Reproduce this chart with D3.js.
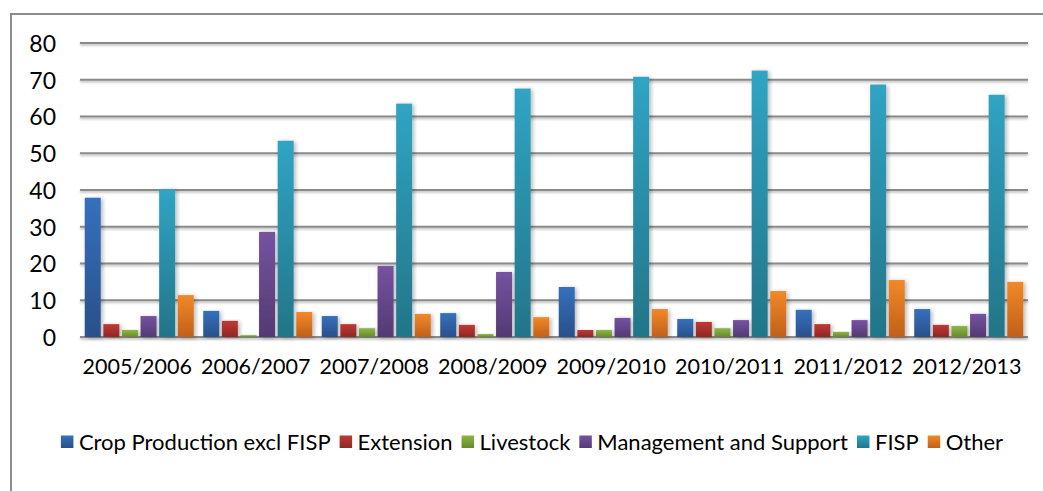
<!DOCTYPE html>
<html><head><meta charset="utf-8">
<script src="https://cdn.jsdelivr.net/npm/d3@7"></script>
<style>body{margin:0;background:#fff;} svg{display:block;font-family:Lato,"Open Sans",sans-serif;}</style>
</head><body><svg id="c" width="1043" height="491"></svg>
<script>
const categories = ["2005/2006","2006/2007","2007/2008","2008/2009","2009/2010","2010/2011","2011/2012","2012/2013"];
const seriesNames = ["Crop Production excl FISP","Extension","Livestock","Management and Support","FISP","Other"];
const cropProduction = [37.9, 7.1, 5.7, 6.5, 13.6, 4.9, 7.4, 7.6];
const extension      = [3.5, 4.4, 3.5, 3.3, 1.9, 4.1, 3.5, 3.3];
const livestock      = [1.9, 0.5, 2.4, 0.8, 1.9, 2.4, 1.4, 3.0];
const management     = [5.7, 28.6, 19.3, 17.7, 5.2, 4.6, 4.6, 6.3];
const fisp           = [40.2, 53.4, 63.5, 67.6, 70.8, 72.5, 68.7, 65.9];
const other          = [11.4, 6.8, 6.3, 5.4, 7.6, 12.5, 15.5, 15.0];
const yTicks = [0,10,20,30,40,50,60,70,80];
const seriesValues = [cropProduction, extension, livestock, management, fisp, other];
const colorsTop = ["#3670bd","#c03a34","#8fb744","#7653a2","#30a4c4","#f28828"];
const colorsBottom = ["#29508a","#8e2823","#66892f","#533a72","#237588","#c0601a"];

const svg = d3.select("#c");
const mLeft = 80, mRight = 1028, mTop = 43, mBottom = 337;

const defs = svg.append("defs");
seriesNames.forEach((s,i)=>{
  const g = defs.append("linearGradient").attr("id","g"+i).attr("x1",0).attr("y1",0).attr("x2",0).attr("y2",1);
  g.append("stop").attr("offset","0%").attr("stop-color",colorsTop[i]);
  g.append("stop").attr("offset","100%").attr("stop-color",colorsBottom[i]);
});
const f = defs.append("filter").attr("id","sh").attr("x","-30%").attr("y","-10%").attr("width","160%").attr("height","120%");
f.append("feDropShadow").attr("dx",2).attr("dy",1).attr("stdDeviation",2).attr("flood-color","#000").attr("flood-opacity",0.28);
const lf = defs.append("filter").attr("id","lsh").attr("filterUnits","userSpaceOnUse").attr("x",0).attr("y",0).attr("width",1043).attr("height",491);
lf.append("feDropShadow").attr("dx",0).attr("dy",1.5).attr("stdDeviation",0.8).attr("flood-color","#000").attr("flood-opacity",0.3);

// chart border
svg.append("rect").attr("x",11).attr("y",14).attr("width",1100).attr("height",600)
  .attr("fill","none").attr("stroke","#8c8c8c").attr("stroke-width",2);

const y = d3.scaleLinear().domain([0,80]).range([mBottom, mTop]);
const x0 = d3.scaleBand().domain(categories).range([mLeft, mRight]).paddingInner(0.08).paddingOuter(0.04);
const x1 = d3.scaleBand().domain(seriesNames).range([0, x0.bandwidth()]).paddingInner(0.14).paddingOuter(0);

// gridlines
svg.append("g").selectAll("line").data(yTicks).join("line")
  .attr("x1",mLeft).attr("x2",mRight).attr("y1",d=>y(d)).attr("y2",d=>y(d))
  .attr("stroke","#8a8a8a").attr("stroke-width",2).attr("filter","url(#lsh)");

// y axis labels
const yAxis = d3.axisLeft(y).tickValues(yTicks).tickSize(0).tickPadding(0);
const ya = svg.append("g").attr("transform",`translate(56,0)`).call(yAxis);
ya.select(".domain").remove();
ya.selectAll("text").attr("font-size",23).attr("fill","#000").attr("font-family","Lato,sans-serif").attr("dy","0.36em");

// bars
const groups = svg.append("g").selectAll("g").data(categories).join("g")
  .attr("transform",d=>`translate(${x0(d)},0)`);
groups.selectAll("rect").data((c,ci)=>seriesNames.map((s,si)=>({s,si,v:seriesValues[si][ci]}))).join("rect")
  .attr("x",d=>x1(d.s)).attr("width",x1.bandwidth())
  .attr("y",d=>y(d.v)).attr("height",d=>y(0)-y(d.v))
  .attr("fill",d=>`url(#g${d.si})`).attr("filter","url(#sh)");

// x axis labels
const xAxis = d3.axisBottom(x0).tickSize(0).tickPadding(0);
const xa = svg.append("g").attr("transform",`translate(-2,${mBottom+22})`).call(xAxis);
xa.select(".domain").remove();
xa.selectAll("text").attr("font-size",21.5).attr("fill","#000").attr("font-family","Lato,sans-serif").attr("dy","0.71em");

// legend
const legend = svg.append("g");
const items = legend.selectAll("g").data(seriesNames).join("g");
items.append("rect").attr("width",12.5).attr("height",12.5).attr("y",-6.5).attr("fill",(d,i)=>`url(#g${i})`);
items.append("text").text(d=>d).attr("x",18).attr("dy","0.36em").attr("font-size",22).attr("fill","#000");
let cx = 0;
const gap = 9;
items.each(function(){
  const tw = d3.select(this).select("text").node().getComputedTextLength();
  d3.select(this).attr("data-x",cx);
  cx += 18 + tw + gap;
});
const total = cx - gap;
const startX = 532 - total/2;
items.attr("transform",function(){return `translate(${startX + (+this.getAttribute("data-x"))},442)`;});
</script></body></html>
